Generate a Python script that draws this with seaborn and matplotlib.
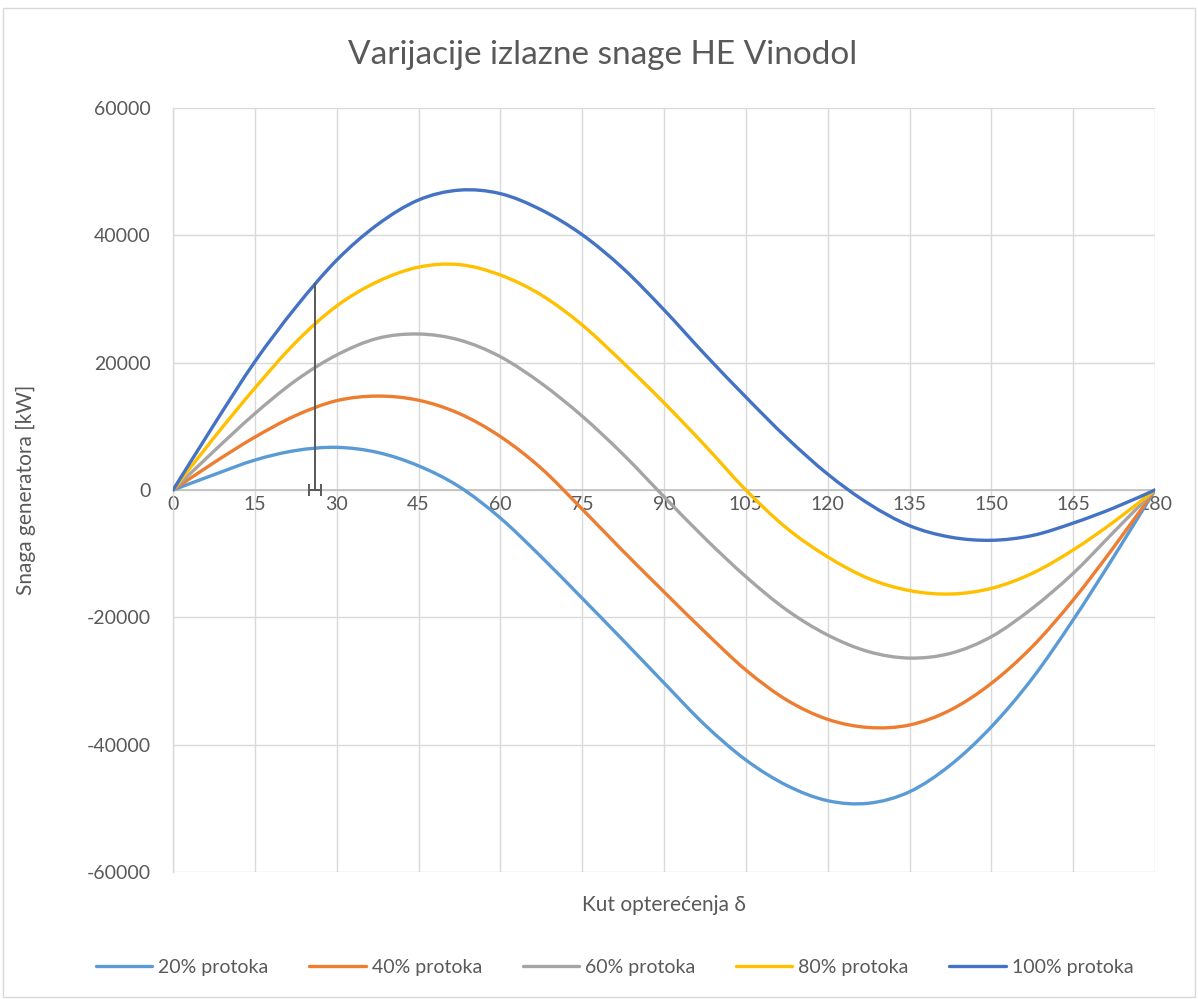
import matplotlib
matplotlib.use("Agg")
import matplotlib.pyplot as plt
import matplotlib.patches as mpatches
from matplotlib.path import Path
import numpy as np
import pandas as pd
import seaborn as sns

# Load angle delta in degrees
delta = [0, 7.5, 15, 22.5, 30, 37.5, 45, 52.5, 60, 67.5, 75, 82.5, 90,
         97.5, 105, 112.5, 120, 127.5, 135, 142.5, 150, 157.5, 165, 172.5, 180]

# Generator output power [kW] for each flow rate
p_20 = [0, 2400, 4700, 6200, 6700, 5900, 3800, 500, -4400, -10500, -17000,
        -23600, -30300, -36900, -42400, -46400, -48800, -49200, -47400,
        -43200, -37200, -29600, -20400, -10400, 0]
p_40 = [0, 4300, 8300, 11700, 14030, 14750, 14100, 12000, 8400, 3400, -3000,
        -9600, -16000, -22300, -28270, -32990, -36020, -37300, -36910,
        -34560, -30370, -24610, -17280, -8900, 0]
p_60 = [0, 6100, 12000, 17200, 21200, 23820, 24500, 23560, 20940, 16760,
        11600, 5600, -1050, -7590, -13610, -18850, -22780, -25390, -26400,
        -25660, -23040, -18590, -13090, -6540, 0]
p_80 = [0, 8200, 16000, 23200, 28900, 32730, 35000, 35400, 33770, 30630,
        25920, 20000, 13700, 7000, 0, -6000, -10500, -13900, -15800, -16340,
        -15450, -13090, -9420, -4970, 0]
p_100 = [0, 10250, 20150, 28700, 36100, 41700, 45550, 47100, 46550, 44000,
         40100, 34800, 28300, 21300, 14600, 8200, 2500, -2150, -5600, -7400,
         -7900, -7150, -5200, -2800, 0]

series_names = ["20% protoka", "40% protoka", "60% protoka", "80% protoka",
                "100% protoka"]
series_values = [p_20, p_40, p_60, p_80, p_100]
colors = ["#5B9BD5", "#ED7D31", "#A5A5A5", "#FFC000", "#4472C4"]

# Marked operating point on the 100% curve
marker_delta = 26.0
marker_power = 32460
marker_halfwidth = 1.05

x_ticks = list(range(0, 181, 15))
y_ticks = [-60000, -40000, -20000, 0, 20000, 40000, 60000]

title = "Varijacije izlazne snage HE Vinodol"
x_label = "Kut opterećenja δ"
y_label = "Snaga generatora [kW]"

frames = [pd.DataFrame({"delta": delta, "P": vals, "serija": name})
          for name, vals in zip(series_names, series_values)]
df = pd.concat(frames, ignore_index=True)


def smooth_path(xy):
    """Cubic Bezier path through the points (Catmull-Rom tangents),
    like a spreadsheet's 'smoothed line' option."""
    n = len(xy)
    verts = [xy[0]]
    codes = [Path.MOVETO]
    for i in range(n - 1):
        p_prev = xy[i - 1] if i > 0 else xy[i]
        p_next = xy[i + 2] if i + 2 < n else xy[i + 1]
        c1 = xy[i] + (xy[i + 1] - p_prev) / 6.0
        c2 = xy[i + 1] - (p_next - xy[i]) / 6.0
        verts += [c1, c2, xy[i + 1]]
        codes += [Path.CURVE4] * 3
    return Path(np.array(verts), codes)


sns.set_theme(style="white")
plt.rcParams["font.family"] = ["Lato", "DejaVu Sans"]
text_color = "#595959"
grid_color = "#D9D9D9"
line_width = 2.4

fig = plt.figure(figsize=(11.98, 9.99), dpi=100)
ax = fig.add_axes([173 / 1198, 1 - 872 / 999, 982 / 1198, 764 / 999])

sns.lineplot(data=df, x="delta", y="P", hue="serija", hue_order=series_names,
             palette=colors, linewidth=line_width, sort=False, ax=ax,
             legend=True)

# render each series as a smoothed curve through its points
for line in list(ax.lines):
    xy = np.asarray(line.get_xydata(), dtype=float)
    if len(xy) < 3:
        continue
    ax.add_patch(mpatches.PathPatch(smooth_path(xy), fill=False,
                                    edgecolor=line.get_color(),
                                    linewidth=line_width, capstyle="round",
                                    joinstyle="round", zorder=3))
    line.set_visible(False)

# operating point marker: vertical drop line and horizontal error bar
ax.vlines(marker_delta, 0, marker_power, color="#595959", linewidth=1.4,
          zorder=5)
ax.errorbar([marker_delta], [0], xerr=[marker_halfwidth], fmt="none",
            ecolor="#595959", elinewidth=1.4, capsize=4.5, capthick=1.4,
            zorder=5)

ax.set_xlim(0, 180)
ax.set_ylim(-60000, 60000)
ax.set_xticks(x_ticks)
ax.set_yticks(y_ticks)
ax.set_xticklabels([str(t) for t in x_ticks])
ax.set_yticklabels([str(t) for t in y_ticks])
ax.grid(True, color=grid_color, linewidth=1.0)
ax.set_axisbelow(True)

for side in ["top", "right"]:
    ax.spines[side].set_visible(False)
ax.spines["left"].set_color(grid_color)
ax.spines["left"].set_linewidth(1.0)
ax.spines["bottom"].set_position(("data", 0))
ax.spines["bottom"].set_color("#BFBFBF")
ax.spines["bottom"].set_linewidth(1.2)

ax.tick_params(axis="both", length=0, labelsize=14, colors=text_color)
ax.tick_params(axis="y", pad=16)
ax.tick_params(axis="x", pad=4)

ax.set_xlabel(x_label, fontsize=15, color=text_color)
ax.set_ylabel(y_label, fontsize=15, color=text_color)
ax.xaxis.set_label_coords(0.5, -0.03)
ax.yaxis.set_label_coords(-0.14, 0.5)

handles, labels = ax.get_legend_handles_labels()
ax.legend_.remove()
fig.legend(handles, labels, loc="center", bbox_to_anchor=(0.513, 1 - 967 / 999),
           ncol=5, frameon=False, fontsize=14, labelcolor=text_color,
           handlelength=2.9, handletextpad=0.3, columnspacing=2.1)

fig.text(0.503, 1 - 55 / 999, title, ha="center", va="center", fontsize=24,
         color=text_color)

fig.patches.append(mpatches.Rectangle((3 / 1198, 2 / 999), 1192 / 1198,
                                      989 / 999, transform=fig.transFigure,
                                      fill=False, edgecolor=grid_color,
                                      linewidth=1.0))

fig.savefig("out.png", dpi=100)
